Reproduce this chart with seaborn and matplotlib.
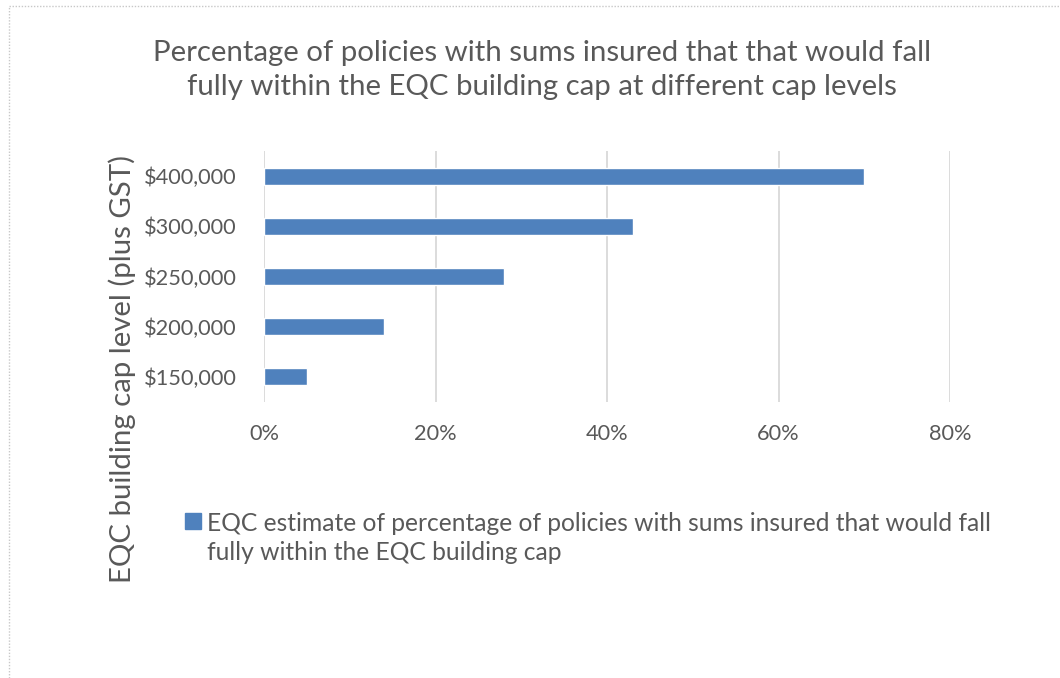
import matplotlib
matplotlib.use("Agg")
import matplotlib.pyplot as plt
import seaborn as sns
import pandas as pd
from matplotlib.lines import Line2D
from matplotlib.ticker import FuncFormatter

categories = ["$400,000", "$300,000", "$250,000", "$200,000", "$150,000"]
values = [70, 43, 28, 14, 5]
x_ticks = [0, 20, 40, 60, 80]
title = ("Percentage of policies with sums insured that that would fall\n"
         "fully within the EQC building cap at different cap levels")
ylabel = "EQC building cap level (plus GST)"
legend_label = ("EQC estimate of percentage of policies with sums insured that would fall\n"
                "fully within the EQC building cap")

BAR = "#4f81bd"
TXT = "#595959"
GRID = "#d9d9d9"

sns.set_theme(style="white")
plt.rcParams['font.family'] = ['Lato', 'DejaVu Sans']

df = pd.DataFrame({"cap": categories, "pct": values})

fig = plt.figure(figsize=(10.6, 6.78), dpi=100)
ax = fig.add_axes([264/1060, 1-402/678, (950-264)/1060, (402-151)/678])

sns.barplot(data=df, y="cap", x="pct", order=categories, color=BAR,
            width=0.34, ax=ax, saturation=1)

ax.set_xlim(0, 80)
ax.set_xticks(x_ticks)
ax.xaxis.set_major_formatter(FuncFormatter(lambda v, p: f"{v:.0f}%"))
ax.grid(axis="x", color=GRID, linewidth=1.3)
ax.grid(axis="y", visible=False)
ax.set_axisbelow(True)
for s in ax.spines.values():
    s.set_visible(False)
ax.tick_params(axis="both", length=0, colors=TXT, labelsize=15.7)
ax.tick_params(axis="x", pad=16)
ax.tick_params(axis="y", pad=19.5)
ax.set_xlabel("")
ax.set_ylabel("")

fig.text(542/1060, 1-70/678, title, ha="center", va="center", color=TXT,
         fontsize=21.2, linespacing=1.35)
fig.text(122/1060, 1-369/678, ylabel, ha="center", va="center", rotation=90,
         color=TXT, fontsize=21.2)

fig.patches.append(plt.Rectangle((185/1060, 1-529/678), 16/1060, 16/678,
                                 transform=fig.transFigure, color=BAR))
fig.text(207/1060, 1-538/678, legend_label, ha="left", va="center", color=TXT,
         fontsize=17.7, linespacing=1.3)

fig.add_artist(Line2D([9/1060, 1], [1-6/678, 1-6/678], transform=fig.transFigure,
                      color="#c8c8c8", linestyle=(0, (1, 1.2)), linewidth=1))
fig.add_artist(Line2D([9/1060, 9/1060], [0, 1-6/678], transform=fig.transFigure,
                      color="#c8c8c8", linestyle=(0, (1, 1.2)), linewidth=1))

fig.savefig("out.png", dpi=100, facecolor="white")
